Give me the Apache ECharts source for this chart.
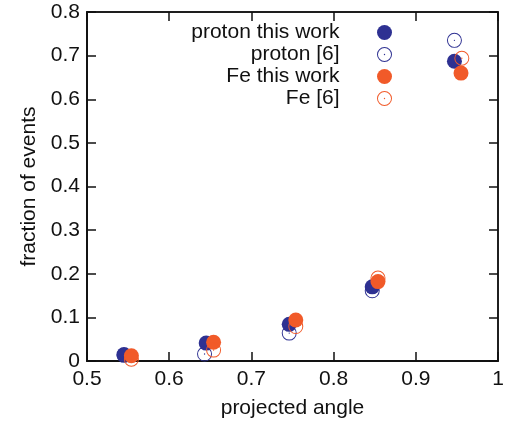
<!DOCTYPE html>
<html>
<head>
<meta charset="utf-8">
<script src="https://cdn.jsdelivr.net/npm/echarts@6/dist/echarts.min.js"></script>
<style>
	html, body { margin: 0; padding: 0; background: #fff; }
	#chart1 { width: 510px; height: 424px; }
</style>
</head>
<body>
<div id="chart1"></div>
<script>
// points as [projected angle, fraction of events]
const protonThisWork = [[0.545, 0.015], [0.645, 0.041], [0.746, 0.084], [0.847, 0.170], [0.947, 0.687]];
const protonRef6 = [[0.545, 0.013], [0.643, 0.016], [0.746, 0.064], [0.847, 0.161], [0.947, 0.735]];
const feThisWork = [[0.554, 0.012], [0.654, 0.043], [0.754, 0.094], [0.854, 0.182], [0.955, 0.660]];
const feRef6 = [[0.554, 0.004], [0.654, 0.025], [0.754, 0.079], [0.854, 0.190], [0.956, 0.694]];
const seriesNames = ['proton this work', 'proton [6]', 'Fe this work', 'Fe [6]'];

const BLUE = '#2e3192';
const ORANGE = '#f15a29';
const FONT = 'Liberation Sans';
// ring with a small dot in the middle
const dotRing = 'path://M0,-10A10,10 0 1,1 0,10A10,10 0 1,1 0,-10ZM0,-8.7A8.7,8.7 0 1,0 0,8.7A8.7,8.7 0 1,0 0,-8.7ZM0,-0.9A0.9,0.9 0 1,1 0,0.9A0.9,0.9 0 1,1 0,-0.9Z';

// second grid on top of the first one only carries the mirrored ticks
const tickAxis = (gridIndex, position, min, max) => ({
	type: 'value', gridIndex: gridIndex, position: position, min: min, max: max, interval: 0.1,
	axisLine: { show: true, onZero: false, lineStyle: { color: '#111', width: 1.5 } },
	axisTick: { show: true, inside: true, length: 9, lineStyle: { color: '#111', width: 1.5 } },
	axisLabel: { show: false },
	splitLine: { show: false }
});

const getOptionChart1=()=>{
	return {
		animation: false,
		grid: [
			{ left: 87, right: 12, top: 12, bottom: 63, outerBoundsMode: 'none', containLabel: false,
				show: true, borderColor: '#111', borderWidth: 1.5, backgroundColor: 'transparent' },
			{ left: 87, right: 12, top: 12, bottom: 63, outerBoundsMode: 'none', containLabel: false }
		],
		legend: {
			orient: 'vertical',
			align: 'right',
			right: 118,
			top: 22,
			padding: 0,
			itemGap: 1,
			itemWidth: 80,
			itemHeight: 15,
			textStyle: { fontFamily: FONT, fontSize: 21, color: '#111' },
			data: seriesNames
		},
		xAxis: [
			{
				type: 'value', gridIndex: 0, min: 0.5, max: 1, interval: 0.1,
				name: 'projected angle', nameLocation: 'middle', nameGap: 37,
				nameTextStyle: { fontFamily: FONT, fontSize: 21, color: '#111' },
				axisLine: { show: true, onZero: false, lineStyle: { color: '#111', width: 1.5 } },
				axisTick: { show: true, inside: true, length: 9, lineStyle: { color: '#111', width: 1.5 } },
				axisLabel: { fontFamily: FONT, fontSize: 21, color: '#111', margin: 8,
					formatter: v => (v === 1 ? '1' : v.toFixed(1)) },
				splitLine: { show: false }
			},
			tickAxis(1, 'bottom', 0.5, 1),
			tickAxis(1, 'top', 0.5, 1)
		],
		yAxis: [
			{
				type: 'value', gridIndex: 0, min: 0, max: 0.8, interval: 0.1,
				name: 'fraction of events', nameLocation: 'middle', nameGap: 47,
				nameTextStyle: { fontFamily: FONT, fontSize: 21, color: '#111' },
				axisLine: { show: true, onZero: false, lineStyle: { color: '#111', width: 1.5 } },
				axisTick: { show: true, inside: true, length: 9, lineStyle: { color: '#111', width: 1.5 } },
				axisLabel: { fontFamily: FONT, fontSize: 21, color: '#111', margin: 7,
					formatter: v => (v === 0 ? '0' : v.toFixed(1)) },
				splitLine: { show: false }
			},
			tickAxis(1, 'left', 0, 0.8),
			tickAxis(1, 'right', 0, 0.8)
		],
		series: [
			{ name: seriesNames[0], type: 'scatter', symbol: 'circle', symbolSize: 15,
				itemStyle: { color: BLUE, opacity: 1 }, data: protonThisWork },
			{ name: seriesNames[1], type: 'scatter', symbol: dotRing, symbolSize: 15,
				itemStyle: { color: BLUE, opacity: 1 }, data: protonRef6 },
			{ name: seriesNames[2], type: 'scatter', symbol: 'circle', symbolSize: 15,
				itemStyle: { color: ORANGE, opacity: 1 }, data: feThisWork },
			{ name: seriesNames[3], type: 'scatter', symbol: dotRing, symbolSize: 15,
				itemStyle: { color: ORANGE, opacity: 1 }, data: feRef6 }
		]
	};
};

const initCharts=()=>{
	const chart1=echarts.init(document.getElementById("chart1"));
	chart1.setOption(getOptionChart1());
};

initCharts();
</script>
</body>
</html>
